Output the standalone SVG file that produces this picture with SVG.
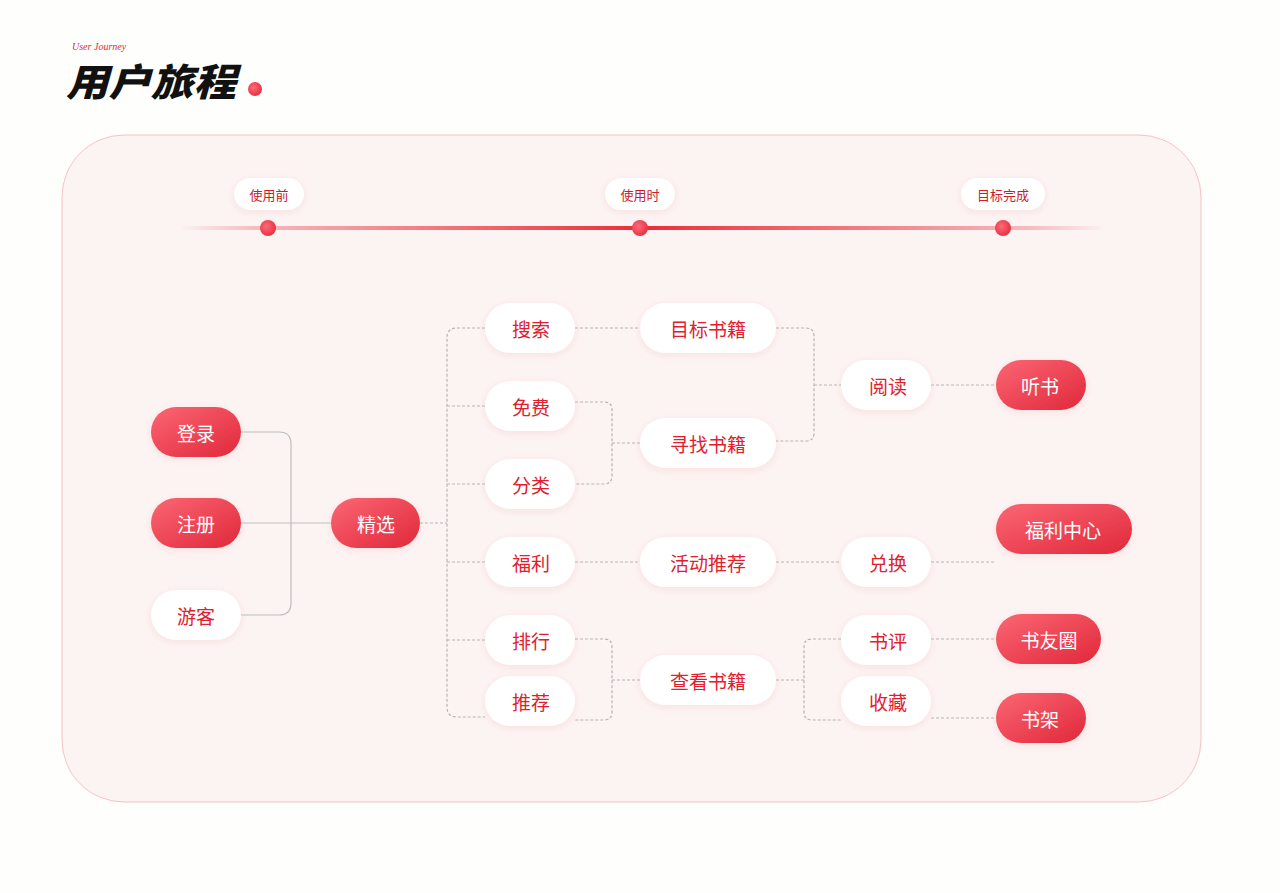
<svg xmlns="http://www.w3.org/2000/svg" width="1280" height="893" viewBox="0 0 1280 893">
<defs>
<linearGradient id="rg" x1="0" y1="0" x2="1" y2="1"><stop offset="0" stop-color="#fb6673"/><stop offset="1" stop-color="#e0283a"/></linearGradient>
<linearGradient id="tl" x1="0" y1="0" x2="1" y2="0"><stop offset="0" stop-color="#f3a0a6" stop-opacity="0"/><stop offset="0.1" stop-color="#f6b3b8"/><stop offset="0.5" stop-color="#ea2d38"/><stop offset="0.9" stop-color="#f6b3b8"/><stop offset="1" stop-color="#f3a0a6" stop-opacity="0"/></linearGradient>
<radialGradient id="dot" cx="0.4" cy="0.4" r="0.7"><stop offset="0" stop-color="#ff6a78"/><stop offset="1" stop-color="#e42a3a"/></radialGradient>
<filter id="sh" x="-30%" y="-40%" width="160%" height="180%"><feDropShadow dx="0" dy="2" stdDeviation="4" flood-color="#e8a0a0" flood-opacity="0.25"/></filter>
</defs>
<style>
.w{fill:#fff;filter:url(#sh)}
.r{fill:url(#rg);filter:url(#sh)}
.tw{font-family:"Noto Sans CJK SC",sans-serif;font-size:19px;fill:#e0202e;text-anchor:middle;dominant-baseline:central}
.tr{font-family:"Noto Sans CJK SC",sans-serif;font-size:19px;fill:#fff;text-anchor:middle;dominant-baseline:central}
.ts{font-family:"Noto Sans CJK SC",sans-serif;font-size:13px;fill:#c8202c;text-anchor:middle;dominant-baseline:central}
.d{fill:none;stroke:#b5b5b5;stroke-width:1.2;stroke-dasharray:3 2}
.s{fill:none;stroke:#bdbdbd;stroke-width:1.2}
</style>
<rect width="1280" height="893" fill="#fefefc"/>
<g id="title">
<text x="72" y="50" font-family="Liberation Serif,serif" font-style="italic" font-size="10" fill="#d8303a">User Journey</text>
<text x="66" y="96" font-family="Noto Sans CJK SC,sans-serif" font-weight="900" font-style="italic" font-size="38" textLength="170" lengthAdjust="spacingAndGlyphs" fill="#111">用户旅程</text>
<circle cx="255" cy="89" r="7" fill="url(#dot)"/>
</g>
<rect x="62" y="135" width="1139" height="667" rx="62" fill="#fcf4f3" stroke="#f7c2c2" stroke-width="1"/>
<g id="timeline">
<rect x="180" y="226" width="925" height="4" fill="url(#tl)"/>
<rect x="234" y="178" width="70" height="32" rx="16" class="w"/><text x="269" y="194" class="ts">使用前</text>
<rect x="605" y="178" width="70" height="32" rx="16" class="w"/><text x="640" y="194" class="ts">使用时</text>
<rect x="961" y="178" width="84" height="32" rx="16" class="w"/><text x="1003" y="194" class="ts">目标完成</text>
<circle cx="268" cy="228" r="8" fill="url(#dot)"/><circle cx="640" cy="228" r="8" fill="url(#dot)"/><circle cx="1003" cy="228" r="8" fill="url(#dot)"/>
</g>
<g id="connectors">
<path class="s" d="M241,432 H279 Q291,432 291,444 V603 Q291,615 279,615 H241 M241,523 H331"/>
<path class="d" d="M420,523 H447 M485,328 H457 Q447,328 447,338 V707 Q447,717 457,717 H485 M447,406 H485 M447,484 H485 M447,562 H485 M447,640 H485"/>
<path class="d" d="M575,328 H640 M575,402 H604 Q612,402 612,410 V476 Q612,484 604,484 H575 M612,443 H640 M575,562 H640"/>
<path class="d" d="M575,639 H604 Q612,639 612,647 V712 Q612,720 604,720 H575 M612,680 H640"/>
<path class="d" d="M776,328 H806 Q814,328 814,336 V433 Q814,441 806,441 H776 M814,385 H841 M931,385 H996"/>
<path class="d" d="M776,562 H841 M931,562 H996"/>
<path class="d" d="M776,680 H804 M841,639 H812 Q804,639 804,647 V712 Q804,720 812,720 H841 M931,639 H996 M931,718 H996"/>
</g>
<g id="n-denglu"><rect x="151" y="407" width="90" height="50" rx="25" class="r"/><text x="196" y="432" class="tr">登录</text></g>
<g id="n-zhuce"><rect x="151" y="498" width="90" height="50" rx="25" class="r"/><text x="196" y="523" class="tr">注册</text></g>
<g id="n-youke"><rect x="151" y="590" width="90" height="50" rx="25" class="w"/><text x="196" y="615" class="tw">游客</text></g>
<g id="n-jingxuan"><rect x="331" y="498" width="89" height="50" rx="25" class="r"/><text x="376" y="523" class="tr">精选</text></g>
<g id="n-sousuo"><rect x="485" y="303" width="90" height="50" rx="25" class="w"/><text x="531" y="328" class="tw">搜索</text></g>
<g id="n-mianfei"><rect x="485" y="381" width="90" height="50" rx="25" class="w"/><text x="531" y="406" class="tw">免费</text></g>
<g id="n-fenlei"><rect x="485" y="459" width="90" height="50" rx="25" class="w"/><text x="531" y="484" class="tw">分类</text></g>
<g id="n-fuli"><rect x="485" y="537" width="90" height="50" rx="25" class="w"/><text x="531" y="562" class="tw">福利</text></g>
<g id="n-paihang"><rect x="485" y="615" width="90" height="50" rx="25" class="w"/><text x="531" y="640" class="tw">排行</text></g>
<g id="n-tuijian"><rect x="485" y="676" width="90" height="50" rx="25" class="w"/><text x="531" y="701" class="tw">推荐</text></g>
<g id="n-mubiao"><rect x="640" y="303" width="136" height="50" rx="25" class="w"/><text x="708" y="328" class="tw">目标书籍</text></g>
<g id="n-xunzhao"><rect x="640" y="418" width="136" height="50" rx="25" class="w"/><text x="708" y="443" class="tw">寻找书籍</text></g>
<g id="n-huodong"><rect x="640" y="537" width="136" height="50" rx="25" class="w"/><text x="708" y="562" class="tw">活动推荐</text></g>
<g id="n-chakan"><rect x="640" y="655" width="136" height="50" rx="25" class="w"/><text x="708" y="680" class="tw">查看书籍</text></g>
<g id="n-yuedu"><rect x="841" y="360" width="90" height="50" rx="25" class="w"/><text x="888" y="385" class="tw">阅读</text></g>
<g id="n-duihuan"><rect x="841" y="537" width="90" height="50" rx="25" class="w"/><text x="888" y="562" class="tw">兑换</text></g>
<g id="n-shuping"><rect x="841" y="615" width="90" height="50" rx="25" class="w"/><text x="888" y="640" class="tw">书评</text></g>
<g id="n-shoucang"><rect x="841" y="676" width="90" height="50" rx="25" class="w"/><text x="888" y="701" class="tw">收藏</text></g>
<g id="n-tingshu"><rect x="996" y="360" width="90" height="50" rx="25" class="r"/><text x="1040" y="385" class="tr">听书</text></g>
<g id="n-fulizhongxin"><rect x="996" y="504" width="136" height="50" rx="25" class="r"/><text x="1063" y="529" class="tr">福利中心</text></g>
<g id="n-shuyouquan"><rect x="996" y="614" width="105" height="50" rx="25" class="r"/><text x="1049" y="639" class="tr">书友圈</text></g>
<g id="n-shujia"><rect x="996" y="693" width="90" height="50" rx="25" class="r"/><text x="1040" y="718" class="tr">书架</text></g>
</svg>
